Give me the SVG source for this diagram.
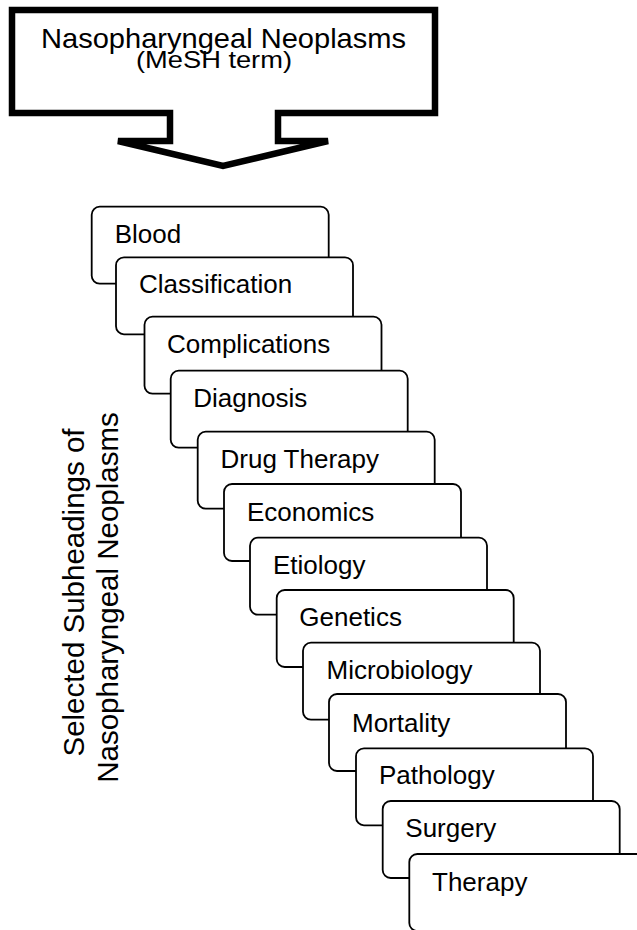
<svg xmlns="http://www.w3.org/2000/svg" width="637" height="930" viewBox="0 0 637 930">
  <style>
    .lbl { font-family: "Liberation Sans", Arial, sans-serif; fill: #000; }
    .box { fill: #fff; stroke: #000; stroke-width: 1.8; }
    .big { fill: #fff; stroke: #000; stroke-width: 6.5; stroke-linejoin: miter; }
    .sub { font-size: 26px; }
  </style>
  <rect x="0" y="0" width="637" height="930" fill="#fff"/>
  <g id="mesh-term">
    <path class="big" d="M12,10 H435 V113 H278 V141 H328 L223,166 L118,141 H170 V113 H12 Z"/>
    <text class="lbl" x="41" y="47.5" font-size="28" textLength="365" lengthAdjust="spacingAndGlyphs">Nasopharyngeal Neoplasms</text>
    <text class="lbl" x="136" y="68" font-size="24" textLength="156" lengthAdjust="spacingAndGlyphs">(MeSH term)</text>
  </g>
  <g id="side-label">
    <text class="lbl" font-size="29.5" text-anchor="middle" transform="translate(83.5,592.5) rotate(-90)">Selected Subheadings of</text>
    <text class="lbl" font-size="29.5" text-anchor="middle" transform="translate(118,597.5) rotate(-90)">Nasopharyngeal Neoplasms</text>
  </g>
  <g id="connectors"></g>
  <g id="blood"><rect class="box" x="91.7" y="206.7" width="237" height="77" rx="8"/><text class="lbl sub" x="114.7" y="242.7">Blood</text></g>
  <g id="classification"><rect class="box" x="116" y="257.3" width="237" height="77" rx="8"/><text class="lbl sub" x="139" y="293.3">Classification</text></g>
  <g id="complications"><rect class="box" x="144.5" y="316.7" width="237" height="77" rx="8"/><text class="lbl sub" x="167" y="352.7">Complications</text></g>
  <g id="diagnosis"><rect class="box" x="170.7" y="370.7" width="237" height="77" rx="8"/><text class="lbl sub" x="193.2" y="406.7">Diagnosis</text></g>
  <g id="drug-therapy"><rect class="box" x="197.7" y="431.7" width="237" height="77" rx="8"/><text class="lbl sub" x="220.5" y="467.7">Drug Therapy</text></g>
  <g id="economics"><rect class="box" x="224" y="484" width="237" height="77" rx="8"/><text class="lbl sub" x="247" y="520.5">Economics</text></g>
  <g id="etiology"><rect class="box" x="250" y="537.7" width="237" height="77" rx="8"/><text class="lbl sub" x="273" y="573.5">Etiology</text></g>
  <g id="genetics"><rect class="box" x="276.7" y="590" width="237" height="77" rx="8"/><text class="lbl sub" x="299.3" y="626">Genetics</text></g>
  <g id="microbiology"><rect class="box" x="303" y="642.7" width="237" height="77" rx="8"/><text class="lbl sub" x="326.5" y="679">Microbiology</text></g>
  <g id="mortality"><rect class="box" x="329" y="694" width="237" height="77" rx="8"/><text class="lbl sub" x="352" y="731.5">Mortality</text></g>
  <g id="pathology"><rect class="box" x="356" y="748.3" width="237" height="77" rx="8"/><text class="lbl sub" x="379" y="783.5">Pathology</text></g>
  <g id="surgery"><rect class="box" x="382.7" y="801" width="237" height="77" rx="8"/><text class="lbl sub" x="405.3" y="836.8">Surgery</text></g>
  <g id="therapy"><rect class="box" x="409.3" y="854" width="237" height="77" rx="8"/><text class="lbl sub" x="432" y="890.5">Therapy</text></g>
</svg>
